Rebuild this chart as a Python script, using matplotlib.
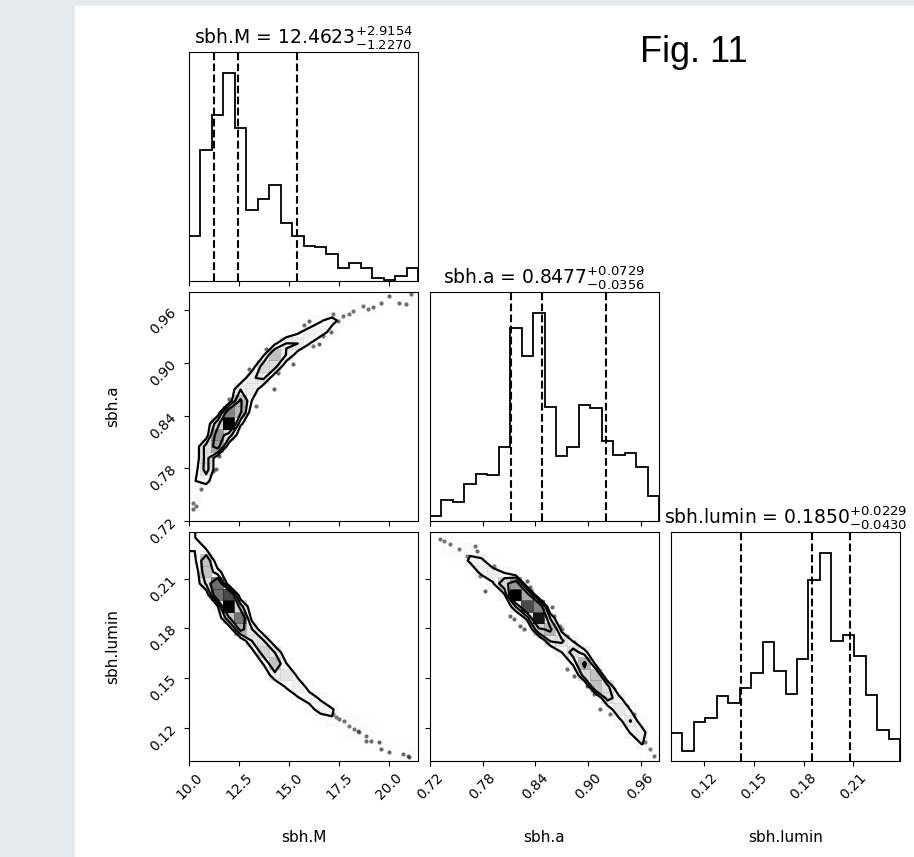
import numpy as np
import matplotlib

matplotlib.use("Agg")
import matplotlib.pyplot as plt
from matplotlib.colors import LinearSegmentedColormap
from matplotlib.patches import Rectangle
from matplotlib.ticker import FixedLocator, FormatStrFormatter, NullLocator

# --- data ---------------------------------------------------------------
labels = ["sbh.M", "sbh.a", "sbh.lumin"]
ranges = [(10.0, 21.45), (0.72, 0.981), (0.0998, 0.2382)]
ticks = [[10.0, 12.5, 15.0, 17.5, 20.0],
         [0.72, 0.78, 0.84, 0.90, 0.96],
         [0.12, 0.15, 0.18, 0.21]]
tick_fmt = ["%.1f", "%.2f", "%.2f"]
medians = [12.4623, 0.8477, 0.1850]
err_lo = [1.2270, 0.0356, 0.0430]
err_hi = [2.9154, 0.0729, 0.0229]

# 20-bin marginal histograms
hist_M = [133, 390, 495, 621, 455, 213, 246, 286, 173, 133,
          105, 101, 81, 40, 55, 38, 10, 2, 15, 38]
hist_a = [15, 62, 58, 113, 142, 138, 223, 582, 498, 628,
          343, 195, 222, 350, 340, 240, 200, 205, 163, 75]
hist_lumin = [85, 30, 118, 128, 193, 173, 218, 262, 355, 268,
              200, 305, 540, 622, 360, 375, 315, 198, 93, 65]

# centre of the 2-D cloud at each bin edge of the x variable
ridge_a_vs_M = [0.740, 0.772, 0.806, 0.826, 0.840, 0.864, 0.885, 0.900,
                0.912, 0.920, 0.927, 0.935, 0.943, 0.950, 0.957, 0.962,
                0.966, 0.970, 0.974, 0.977, 0.980]
ridge_lumin_vs_M = [0.238, 0.223, 0.209, 0.199, 0.190, 0.181, 0.171, 0.163,
                    0.155, 0.148, 0.141, 0.135, 0.130, 0.126, 0.122, 0.118,
                    0.114, 0.111, 0.108, 0.105, 0.102]
ridge_lumin_vs_a = [0.238, 0.234, 0.230, 0.225, 0.220, 0.2145, 0.2097,
                    0.2045, 0.198, 0.1913, 0.1831, 0.1753, 0.1687, 0.1616,
                    0.1536, 0.1446, 0.1362, 0.1279, 0.1197, 0.1120, 0.101]
band_halfwidth = {(1, 0): 0.0065, (2, 0): 0.0035, (2, 1): 0.0035}

# stray samples outside the contours
pts_M_a_x = [20.85, 20.02, 19.6, 19.18, 18.93, 18.68, 18.18, 18.02, 17.68,
             17.43, 17.18, 17.1, 16.68, 16.52, 16.18, 16.02, 15.77, 15.35,
             15.18, 14.85, 14.43, 14.27, 13.93, 13.85, 13.35, 13.02, 12.77,
             12.43, 12.02, 11.85, 11.52, 11.35, 11.18, 10.6, 10.6, 10.18,
             10.18, 10.35, 20.52, 21.1]
pts_M_a_y = [0.9673, 0.977, 0.969, 0.9635, 0.9616, 0.9655, 0.9597, 0.956,
             0.954, 0.948, 0.956, 0.935, 0.931, 0.922, 0.920, 0.948, 0.943,
             0.931, 0.899, 0.912, 0.889, 0.870, 0.912, 0.916, 0.851, 0.893,
             0.878, 0.874, 0.859, 0.810, 0.794, 0.779, 0.777, 0.756, 0.766,
             0.734, 0.741, 0.737, 0.969, 0.979]
pts_M_lumin_x = [10.18, 10.27, 10.43, 10.52, 17.02, 17.18, 17.52, 17.77,
                 18.02, 18.27, 18.52, 18.85, 19.1, 19.52, 19.6, 20.02, 20.68,
                 20.93, 21.02, 18.85, 18.43, 17.35, 15.43]
pts_M_lumin_y = [0.2359, 0.2309, 0.2289, 0.2258, 0.1302, 0.1282, 0.1252,
                 0.1242, 0.1211, 0.1191, 0.1171, 0.1151, 0.1121, 0.1111,
                 0.1070, 0.1050, 0.1040, 0.1030, 0.1020, 0.1121, 0.1181,
                 0.1262, 0.1393]
pts_a_lumin_x = [0.7318, 0.7356, 0.7432, 0.7527, 0.7622, 0.7717, 0.7736,
                 0.7774, 0.7831, 0.7926, 0.8078, 0.8306, 0.8344, 0.8477,
                 0.8591, 0.861, 0.8686, 0.8705, 0.8762, 0.8838, 0.8534,
                 0.8458, 0.8268, 0.8154, 0.8116, 0.823, 0.8762, 0.8838,
                 0.899, 0.9066, 0.9218, 0.9294, 0.937, 0.9446, 0.9521,
                 0.9597, 0.9654, 0.9711, 0.9749, 0.9255, 0.9141]
pts_a_lumin_y = [0.2339, 0.2329, 0.2309, 0.2278, 0.2238, 0.2298, 0.2268,
                 0.2117, 0.2027, 0.2178, 0.2097, 0.2087, 0.2047, 0.1966,
                 0.1926, 0.1876, 0.1815, 0.1795, 0.1755, 0.1715, 0.1715,
                 0.1755, 0.1795, 0.1856, 0.1876, 0.1815, 0.1554, 0.1513,
                 0.1453, 0.1403, 0.1473, 0.1433, 0.1372, 0.1332, 0.1282,
                 0.1191, 0.1111, 0.1070, 0.1030, 0.1282, 0.1312]

hists = [hist_M, hist_a, hist_lumin]
ridges = {(1, 0): ridge_a_vs_M, (2, 0): ridge_lumin_vs_M, (2, 1): ridge_lumin_vs_a}
points = {(1, 0): (pts_M_a_x, pts_M_a_y),
          (2, 0): (pts_M_lumin_x, pts_M_lumin_y),
          (2, 1): (pts_a_lumin_x, pts_a_lumin_y)}
NBINS = 20


def edges(k):
    return np.linspace(ranges[k][0], ranges[k][1], NBINS + 1)


def ridge_hist(col_counts, ridge, halfw, yedges):
    """Spread each column's count over the band the cloud covers."""
    H = np.zeros((NBINS, NBINS))
    for i in range(NBINS):
        lo = min(ridge[i], ridge[i + 1]) - halfw
        hi = max(ridge[i], ridge[i + 1]) + halfw
        ov = np.minimum(yedges[1:], hi) - np.maximum(yedges[:-1], lo)
        H[i] = col_counts[i] * np.clip(ov, 0, None) / (hi - lo)
    return H


def draw_2d(ax, H, X, Y, px, py):
    # corner-style levels: 0.5, 1, 1.5, 2 sigma
    levels = 1.0 - np.exp(-0.5 * np.arange(0.5, 2.1, 0.5) ** 2)
    Hflat = np.sort(H.flatten())[::-1]
    sm = np.cumsum(Hflat)
    sm /= sm[-1]
    V = np.empty(len(levels))
    for i, v0 in enumerate(levels):
        sel = Hflat[sm <= v0]
        V[i] = sel[-1] if len(sel) else Hflat[0]
    V.sort()
    m = np.diff(V) == 0
    while np.any(m):
        V[np.where(m)[0][0]] *= 1.0 - 1e-4
        m = np.diff(V) == 0
    V.sort()

    X1, Y1 = 0.5 * (X[1:] + X[:-1]), 0.5 * (Y[1:] + Y[:-1])
    H2 = H.min() + np.zeros((H.shape[0] + 4, H.shape[1] + 4))
    H2[2:-2, 2:-2] = H
    H2[2:-2, 1] = H[:, 0]
    H2[2:-2, -2] = H[:, -1]
    H2[1, 2:-2] = H[0]
    H2[-2, 2:-2] = H[-1]
    H2[1, 1] = H[0, 0]
    H2[1, -2] = H[0, -1]
    H2[-2, 1] = H[-1, 0]
    H2[-2, -2] = H[-1, -1]
    X2 = np.concatenate([X1[0] + np.array([-2, -1]) * np.diff(X1[:2]), X1,
                         X1[-1] + np.array([1, 2]) * np.diff(X1[-2:])])
    Y2 = np.concatenate([Y1[0] + np.array([-2, -1]) * np.diff(Y1[:2]), Y1,
                         Y1[-1] + np.array([1, 2]) * np.diff(Y1[-2:])])

    white = LinearSegmentedColormap.from_list("white", [(1, 1, 1), (1, 1, 1)], N=2)
    dens = LinearSegmentedColormap.from_list("dens", ["k", (1, 1, 1, 0)])
    ax.plot(px, py, "o", ms=3.0, mec="none", color="k", alpha=0.6, zorder=-100)
    ax.contourf(X2, Y2, H2.T, [V.min(), H.max()], cmap=white, antialiased=False)
    ax.pcolor(X, Y, H.max() - H.T, cmap=dens)
    ax.contour(X2, Y2, H2.T, V, colors="k", linewidths=1.6)


W, Hpx = 914, 857
fig = plt.figure(figsize=(W / 100, Hpx / 100), dpi=100, facecolor="#e4ebee")
fig.add_artist(Rectangle((75 / W, 0), 1 - 75 / W, (Hpx - 6) / Hpx,
                         transform=fig.transFigure, color="white", zorder=-5))

col_left = [189, 430, 671]
row_top = [52, 292, 532]
size = 229

for r in range(3):
    for c in range(r + 1):
        ax = fig.add_axes([col_left[c] / W, (Hpx - row_top[r] - size) / Hpx,
                           size / W, size / Hpx])
        ax.set_xlim(*ranges[c])
        ax.xaxis.set_major_locator(FixedLocator(ticks[c]))
        ax.xaxis.set_major_formatter(FormatStrFormatter(tick_fmt[c]))
        if r == c:
            e = edges(c)
            ax.stairs(hists[c], e, color="k", lw=1.3)
            q = [medians[c] - err_lo[c], medians[c], medians[c] + err_hi[c]]
            for v in q:
                ax.axvline(v, ls="dashed", color="k", lw=1.5)
            ax.set_ylim(0, 1.1 * max(hists[c]))
            ax.yaxis.set_major_locator(NullLocator())
            ax.set_title(f"{labels[c]} = ${medians[c]:.4f}_{{-{err_lo[c]:.4f}}}"
                         f"^{{+{err_hi[c]:.4f}}}$", fontsize=13.5)
        else:
            X, Y = edges(c), edges(r)
            H = ridge_hist(hists[c], ridges[(r, c)], band_halfwidth[(r, c)], Y)
            draw_2d(ax, H, X, Y, *points[(r, c)])
            ax.set_ylim(*ranges[r])
            ax.yaxis.set_major_locator(FixedLocator(ticks[r]))
            ax.yaxis.set_major_formatter(FormatStrFormatter(tick_fmt[r]))
            if c == 0:
                ax.set_ylabel(labels[r], fontsize=11)
                ax.yaxis.set_label_coords(-0.3, 0.5)
                for lab in ax.get_yticklabels():
                    lab.set_rotation(45)
            else:
                ax.tick_params(labelleft=False)
        if r == 2:
            ax.set_xlabel(labels[c], fontsize=11)
            ax.xaxis.set_label_coords(0.5, -0.3)
            for lab in ax.get_xticklabels():
                lab.set_rotation(45)
        else:
            ax.tick_params(labelbottom=False)
        ax.tick_params(labelsize=10)

fig.text(640 / W, (Hpx - 62) / Hpx, "Fig. 11", fontsize=26,
         family=["Liberation Sans", "DejaVu Sans"], va="baseline", ha="left")

fig.savefig("out.png", dpi=100, facecolor=fig.get_facecolor())
